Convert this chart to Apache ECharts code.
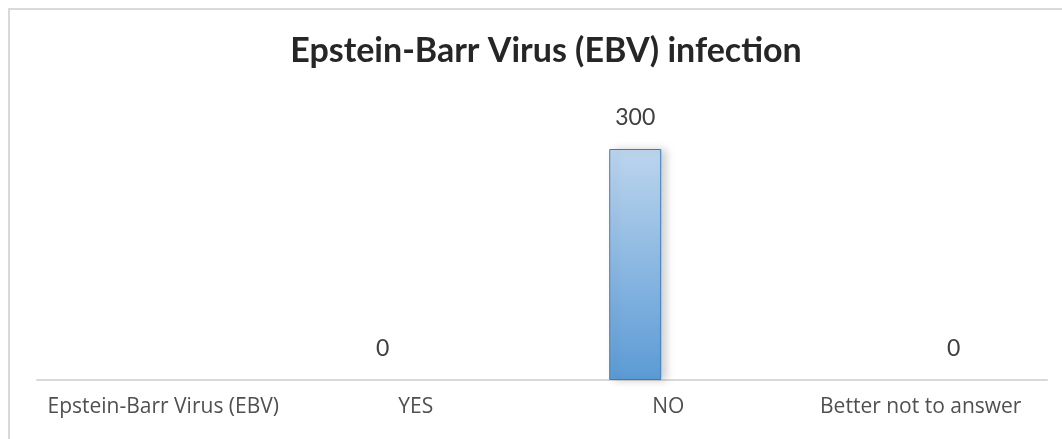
<!DOCTYPE html>
<html>
<head>
<meta charset="utf-8">
<title>Epstein-Barr Virus (EBV) infection</title>
<script src="https://cdn.jsdelivr.net/npm/echarts@6/dist/echarts.min.js"></script>
<style>
  html, body { margin: 0; padding: 0; background: #ffffff; }
  #chart { width: 1062px; height: 439px; }
</style>
</head>
<body>
<div id="chart"></div>
<script>
// Survey answers on EBV infection
const chartTitle = 'Epstein-Barr Virus (EBV) infection';
const categories = ['Epstein-Barr Virus (EBV)', 'YES', 'NO', 'Better not to answer'];
// Two column series sharing each category slot
const seriesFirst = [null, 0, 300, null];
const seriesSecond = [null, null, null, 0];

const chart = echarts.init(document.getElementById('chart'), null, { renderer: 'canvas' });

const barStyle = {
  color: new echarts.graphic.LinearGradient(0, 0, 0, 1, [
    { offset: 0, color: '#bcd5ee' },
    { offset: 1, color: '#5b9bd5' }
  ]),
  borderColor: '#3f7ab8',
  borderWidth: 1,
  shadowColor: 'rgba(0,0,0,0.18)',
  shadowBlur: 8,
  shadowOffsetX: 5,
  shadowOffsetY: 0
};

// zero-height columns get no outline or shadow, only their label
function toBarData(values) {
  return values.map(function (v) {
    if (v === 0) {
      return { value: v, itemStyle: { borderWidth: 0, shadowBlur: 0, opacity: 0 } };
    }
    return v;
  });
}

const labelStyle = {
  show: true,
  position: 'top',
  distance: 20,
  fontFamily: 'Lato',
  fontSize: 23,
  color: '#404040',
  opacity: 1
};

chart.setOption({
  animation: false,
  backgroundColor: '#ffffff',
  title: {
    text: chartTitle,
    left: 541,
    textAlign: 'center',
    top: 29,
    textStyle: {
      fontFamily: 'Lato',
      fontWeight: 'bold',
      fontSize: 34,
      color: '#262626'
    }
  },
  graphic: [
    {
      type: 'polyline',
      shape: { points: [[9, 439], [9, 9], [1062, 9]] },
      style: { stroke: '#d9d9d9', lineWidth: 2, fill: null },
      silent: true
    }
  ],
  grid: { left: 37, right: 15, top: 149, bottom: 59 },
  xAxis: {
    type: 'category',
    data: categories,
    axisLine: { lineStyle: { color: '#d9d9d9', width: 2 } },
    axisTick: { show: false },
    axisLabel: {
      fontFamily: 'Open Sans',
      fontSize: 21,
      color: '#505050',
      margin: 17,
      interval: 0
    }
  },
  yAxis: {
    type: 'value',
    min: 0,
    max: 300,
    show: false,
    splitLine: { show: false }
  },
  series: [
    {
      type: 'bar',
      data: toBarData(seriesFirst),
      barWidth: 52,
      barGap: '27%',
      itemStyle: barStyle,
      label: labelStyle
    },
    {
      type: 'bar',
      data: toBarData(seriesSecond),
      barWidth: 52,
      itemStyle: barStyle,
      label: labelStyle
    }
  ]
});
</script>
</body>
</html>
